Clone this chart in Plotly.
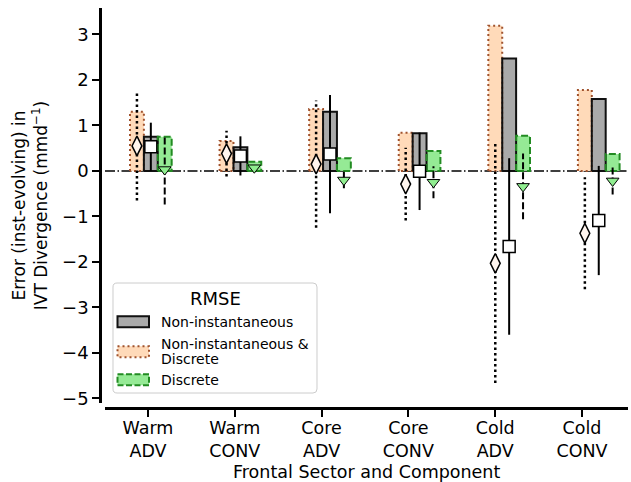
import plotly.graph_objects as go

# ---------------- data ----------------
categories = ["Warm<br>ADV", "Warm<br>CONV", "Core<br>ADV", "Core<br>CONV", "Cold<br>ADV", "Cold<br>CONV"]
tick_pos = [0, 1, 2, 3, 4, 5]

# RMSE bars
rmse_noninst = [0.75, 0.52, 1.30, 0.83, 2.47, 1.58]
rmse_both = [1.30, 0.66, 1.36, 0.84, 3.19, 1.78]
rmse_disc = [0.75, 0.20, 0.28, 0.44, 0.77, 0.37]

# mean error +/- spread markers
mean_both = [0.55, 0.38, 0.15, -0.29, -2.03, -1.37]
err_both = [1.20, 0.50, 1.40, 0.80, 2.63, 1.23]
mean_noninst = [0.53, 0.33, 0.37, -0.01, -1.66, -1.09]
err_noninst = [0.53, 0.43, 1.30, 0.85, 1.94, 1.20]
mean_disc = [0.03, 0.07, -0.20, -0.25, -0.34, -0.22]
err_disc = [0.77, 0.05, 0.18, 0.35, 0.72, 0.30]

legend_labels = ["Non-instantaneous", "Non-instantaneous &", "Discrete", "Discrete"]

# ---------------- layout constants ----------------
W = 0.16
group_spacing = 1.032
group_offset = -0.127
x_both = [group_offset + i * group_spacing for i in tick_pos]
x_non = [x + W for x in x_both]
x_disc = [x + 2 * W for x in x_both]

PEACH = "#FFDAB9"
PEACH_EDGE = "#a0522d"
GRAY = "#aaaaaa"
GREEN = "#95ea95"
GREEN_EDGE = "#228b22"
DOT = "2.5px,3px"
DASH = "7px,3px"

fig = go.Figure()


def outline(xs, ys, color, dash, width):
    ox, oy = [], []
    for x, v in zip(xs, ys):
        ox += [x - W / 2, x - W / 2, x + W / 2, x + W / 2, x - W / 2, None]
        oy += [0, v, v, 0, 0, None]
    return go.Scatter(x=ox, y=oy, mode="lines", hoverinfo="skip",
                      line=dict(color=color, dash=dash, width=width))


def errlines(xs, ms, es, dash, width):
    ex, ey = [], []
    for x, m, e in zip(xs, ms, es):
        ex += [x, x, None]
        ey += [m - e, m + e, None]
    return go.Scatter(x=ex, y=ey, mode="lines", hoverinfo="skip",
                      line=dict(color="black", dash=dash, width=width))


# bars
fig.add_trace(go.Bar(x=x_both, y=rmse_both, width=W, marker=dict(color=PEACH, line=dict(width=0))))
fig.add_trace(go.Bar(x=x_non, y=rmse_noninst, width=W, marker=dict(color=GRAY, line=dict(width=0))))
fig.add_trace(go.Bar(x=x_disc, y=rmse_disc, width=W, marker=dict(color=GREEN, line=dict(width=0))))
fig.add_trace(outline(x_both, rmse_both, PEACH_EDGE, "2px,3px", 2))
fig.add_trace(outline(x_non, rmse_noninst, "#111111", "solid", 2))
fig.add_trace(outline(x_disc, rmse_disc, GREEN_EDGE, DASH, 2))

# error bars
fig.add_trace(errlines(x_both, mean_both, err_both, DOT, 2.5))
fig.add_trace(errlines(x_non, mean_noninst, err_noninst, "solid", 2))
fig.add_trace(errlines(x_disc, mean_disc, err_disc, DASH, 2))

# markers
fig.add_trace(go.Scatter(x=x_both, y=mean_both, mode="markers",
                         marker=dict(symbol="diamond-tall", size=14, color="#fff5ee",
                                     line=dict(color="black", width=1.5))))
fig.add_trace(go.Scatter(x=x_non, y=mean_noninst, mode="markers",
                         marker=dict(symbol="square", size=12, color="white",
                                     line=dict(color="black", width=1.5))))
fig.add_trace(go.Scatter(x=x_disc, y=mean_disc, mode="markers",
                         marker=dict(symbol="triangle-down", size=11, color="#90ee90",
                                     line=dict(color="black", width=1))))

# zero line
fig.add_shape(type="line", xref="x domain", x0=0, x1=1, yref="y", y0=0, y1=0,
              line=dict(color="black", width=1.5, dash="10px,2.5px,1.5px,2.5px"), layer="below")


# ---------------- custom legend ----------------
def px2x(p):
    return (p - 100) / 528


def py2y(p):
    return (408 - p) / 400


def rounded_rect(x0, y0, x1, y1, r):
    X = lambda p: f"{px2x(p):.5f}"
    Y = lambda p: f"{py2y(p):.5f}"
    return (f"M {X(x0 + r)},{Y(y0)} L {X(x1 - r)},{Y(y0)} Q {X(x1)},{Y(y0)} {X(x1)},{Y(y0 + r)} "
            f"L {X(x1)},{Y(y1 - r)} Q {X(x1)},{Y(y1)} {X(x1 - r)},{Y(y1)} "
            f"L {X(x0 + r)},{Y(y1)} Q {X(x0)},{Y(y1)} {X(x0)},{Y(y1 - r)} "
            f"L {X(x0)},{Y(y0 + r)} Q {X(x0)},{Y(y0)} {X(x0 + r)},{Y(y0)} Z")


fig.add_shape(type="path", xref="paper", yref="paper", path=rounded_rect(113, 283, 317, 393, 4),
              fillcolor="rgba(255,255,255,0.85)", line=dict(color="#cccccc", width=1), layer="above")

patches = [(321.7, GRAY, "#111111", "solid"),
           (351.7, PEACH, PEACH_EDGE, "2px,3px"),
           (379.7, GREEN, GREEN_EDGE, "6px,2.5px")]
for cy, fc, lc, ds in patches:
    fig.add_shape(type="rect", xref="paper", yref="paper",
                  x0=px2x(117.5), x1=px2x(149), y0=py2y(cy - 5.5), y1=py2y(cy + 5.5),
                  fillcolor=fc, line=dict(color=lc, width=2, dash=ds), layer="above")

fig.add_annotation(text="RMSE", xref="paper", yref="paper", x=px2x(215), y=py2y(298),
                   xanchor="center", yanchor="middle", showarrow=False, font=dict(size=18))
for txt, cy in zip(legend_labels, [321.7, 344, 359.3, 379.5]):
    fig.add_annotation(text=txt, xref="paper", yref="paper", x=px2x(159), y=py2y(cy),
                       xanchor="left", yanchor="middle", showarrow=False, font=dict(size=14))

# x-axis title
fig.add_annotation(text="Frontal Sector and Component", xref="paper", yref="paper",
                   x=px2x(366), y=py2y(472), xanchor="center", yanchor="middle",
                   showarrow=False, font=dict(size=17.5))

# ---------------- axes ----------------
fig.update_layout(
    width=631, height=482,
    margin=dict(l=100, r=3, t=8, b=74, autoexpand=False),
    plot_bgcolor="white", paper_bgcolor="white",
    showlegend=False, barmode="overlay",
    font=dict(family="DejaVu Sans", color="black"),
)
fig.update_xaxes(
    domain=[5 / 528, 1], anchor="free", position=0, automargin=False,
    range=[-0.495, 5.53], tickmode="array", tickvals=tick_pos, ticktext=categories,
    ticks="outside", ticklen=7, tickwidth=2, tickcolor="black",
    showline=True, linewidth=2.5, linecolor="black", showgrid=False, zeroline=False,
    tickfont=dict(size=17.5), ticklabelstandoff=-4,
)
fig.update_yaxes(
    domain=[5 / 400, 1], anchor="free", position=0, automargin=False,
    range=[-5.1, 3.58], tickmode="array", tickvals=[-5, -4, -3, -2, -1, 0, 1, 2, 3],
    ticks="outside", ticklen=7, tickwidth=2, tickcolor="black",
    showline=True, linewidth=2.5, linecolor="black", showgrid=False, zeroline=False,
    tickfont=dict(size=18),
    title=dict(text="Error (inst-evolving) in<br>IVT Divergence (mmd<sup>−1</sup>)",
               font=dict(size=17), standoff=9),
)

fig.write_html("out.html")
